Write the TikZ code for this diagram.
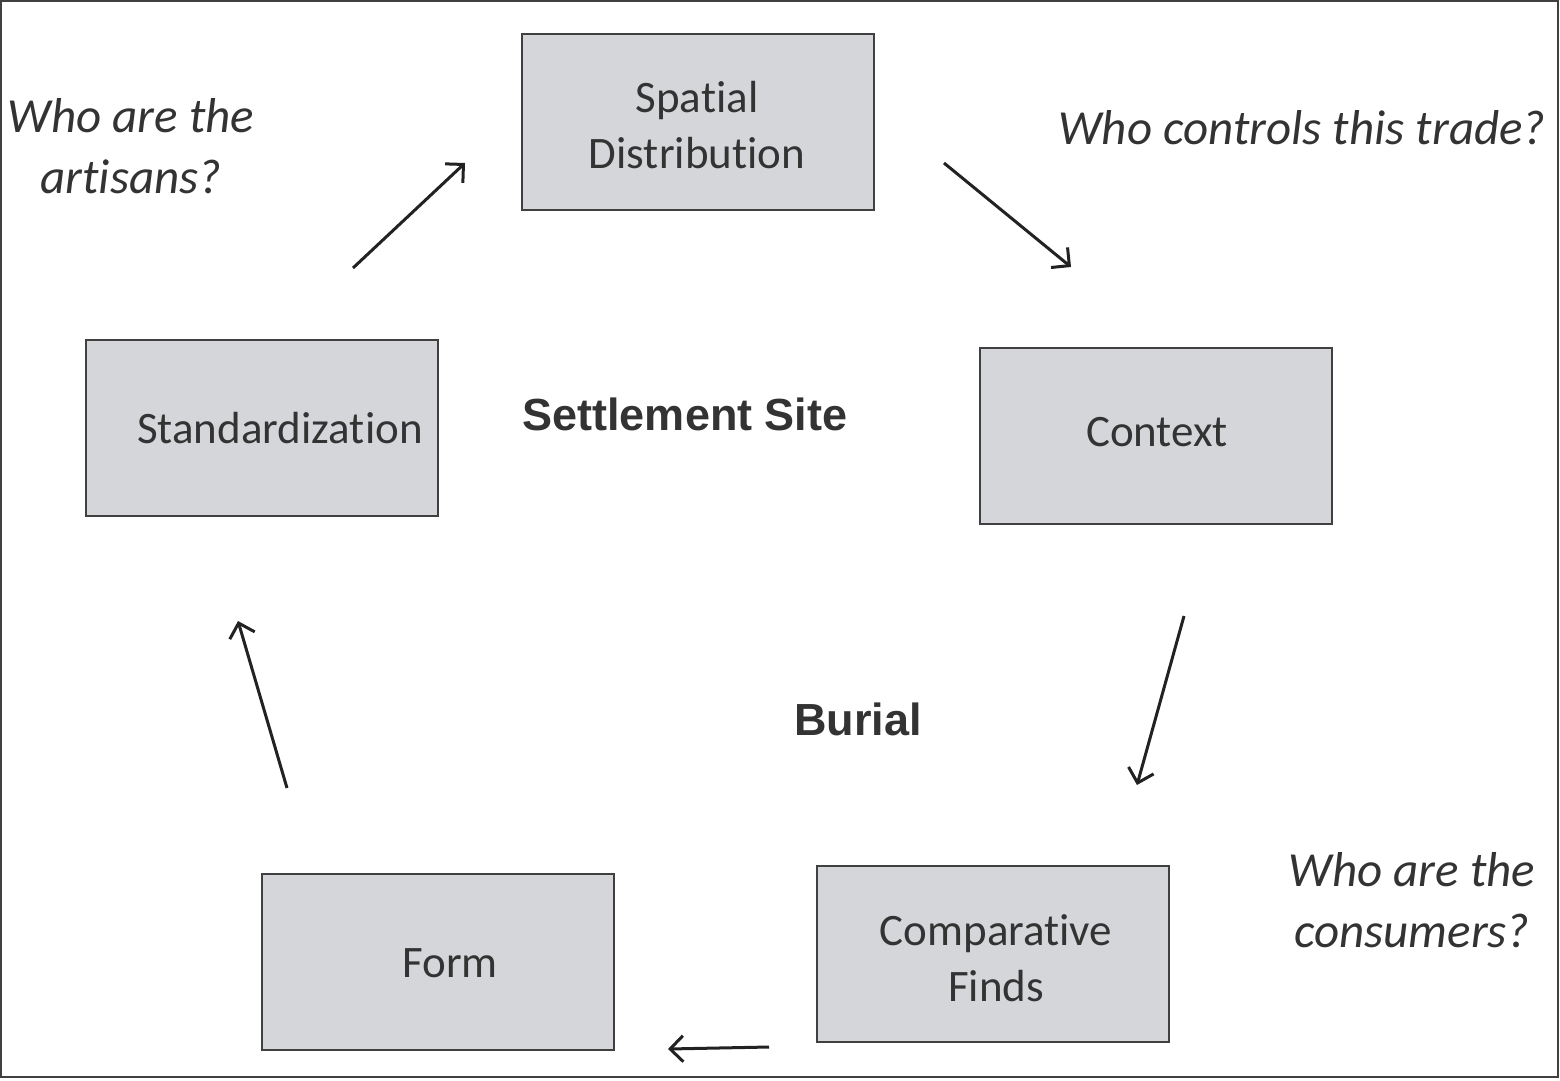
\documentclass[tikz,border=0pt]{standalone}
\usepackage{fontspec}
\setmainfont{Carlito}[RawFeature={-liga;-dlig;-clig}]
\newfontfamily\arialbold{Liberation Sans}
\usetikzlibrary{arrows.meta}
\definecolor{boxfill}{HTML}{D5D6D9}
\definecolor{boxline}{HTML}{404040}
\definecolor{txt}{HTML}{333333}
\definecolor{arr}{HTML}{222222}
\tikzset{
  stagebox/.style={draw=boxline, line width=2pt, fill=boxfill, minimum width=352pt, minimum height=176pt, inner sep=0pt},
  boxtext/.style={text=txt, font=\fontsize{45}{56}\selectfont, align=center, inner sep=0pt},
  question/.style={text=txt, font=\fontsize{49}{61}\selectfont\itshape, align=center, inner sep=0pt},
  sitelabel/.style={text=txt, font=\fontsize{45}{52}\selectfont\arialbold\bfseries, inner sep=0pt},
  flow/.style={draw=arr, line width=3pt, -{Straight Barb[length=13pt, width=26pt, line width=3pt]}}
}
\begin{document}
\begin{tikzpicture}[x=1pt, y=-1pt]
\useasboundingbox (0,0) rectangle (1560,1080);
\draw[draw=boxline, line width=1.5pt] (1,1) rectangle (1558,1077);

\node[stagebox] (spatial) at (698,122) {};
\node[boxtext] (spatialt) at (697,125) {Spatial\\Distribution};
\node[stagebox] (std) at (262,428) {};
\node[boxtext] (stdt) at (280,428) {Standardization};
\node[stagebox] (context) at (1156,436) {};
\node[boxtext] (contextt) at (1157,432) {Context};
\node[stagebox] (comp) at (993,954) {};
\node[boxtext] (compt) at (996,958) {Comparative\\Finds};
\node[stagebox] (form) at (438,962) {};
\node[boxtext] (formt) at (450,963) {Form};

\node[question] (q1) at (131,146) {Who are the\\artisans?};
\node[question] (q2) at (1302,128) {Who controls this trade?};
\node[question] (q3) at (1412,900) {Who are the\\consumers?};
\node[sitelabel] (settle) at (685,414) {Settlement Site};
\node[sitelabel] (burial) at (858,719) {Burial};

\coordinate (a1s) at (353,268); \coordinate (a1e) at (465,163);
\coordinate (a2s) at (944,163); \coordinate (a2e) at (1071,267);
\coordinate (a3s) at (1184,616); \coordinate (a3e) at (1137,785);
\coordinate (a4s) at (769,1047); \coordinate (a4e) at (668,1049);
\coordinate (a5s) at (287,788); \coordinate (a5e) at (238,621);
\draw[flow] (a1s) -- (a1e);
\draw[flow] (a2s) -- (a2e);
\draw[flow] (a3s) -- (a3e);
\draw[flow] (a4s) -- (a4e);
\draw[flow] (a5s) -- (a5e);
\end{tikzpicture}
\end{document}
